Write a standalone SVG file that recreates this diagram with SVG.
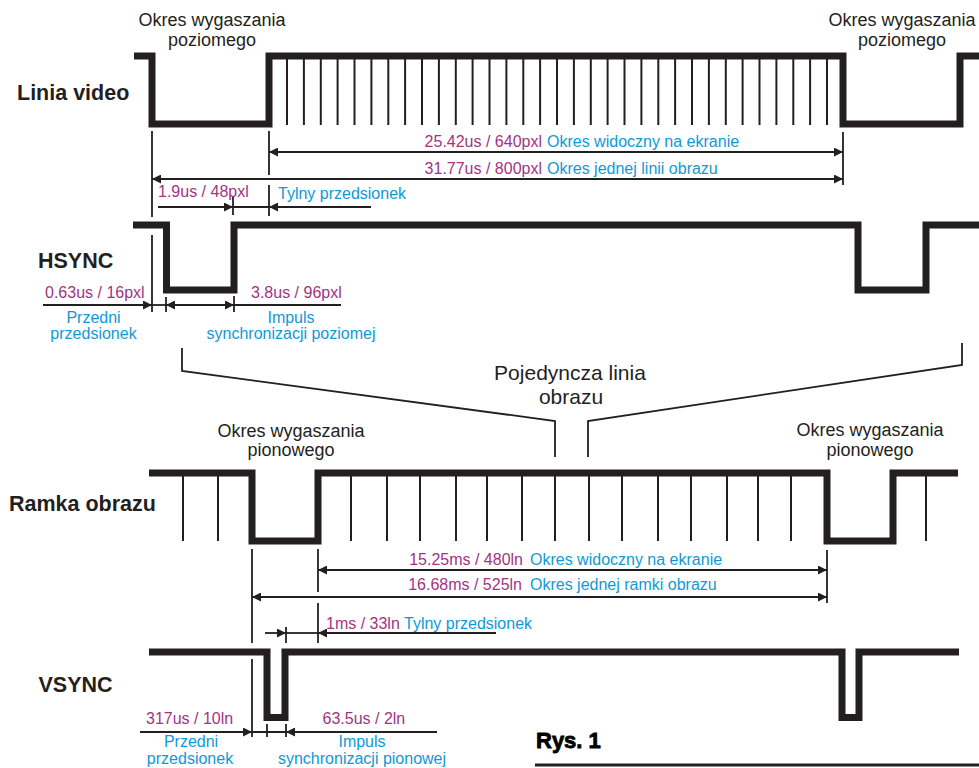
<svg xmlns="http://www.w3.org/2000/svg" width="979" height="768" viewBox="0 0 979 768">
<defs>
<marker id="ah" viewBox="0 0 10 10" refX="10" refY="5" markerUnits="userSpaceOnUse" markerWidth="10" markerHeight="9" orient="auto-start-reverse">
<path d="M0,0 L10,5 L0,10 z" fill="#231f20"/>
</marker>
<style>
text{font-family:"Liberation Sans",Arial,sans-serif;}
.wave{fill:none;stroke:#231f20;stroke-width:7;stroke-linejoin:miter;stroke-linecap:butt;}
.tick{stroke:#231f20;stroke-width:2;}
.dim{stroke:#231f20;stroke-width:1.8;fill:none;}
.ae{marker-end:url(#ah);}
.ab{marker-start:url(#ah);marker-end:url(#ah);}
.lbl{font-size:21.5px;font-weight:bold;fill:#231f20;}
.cap{font-size:18px;fill:#231f20;text-anchor:middle;}
.big{font-size:21px;fill:#231f20;text-anchor:middle;}
.pu{font-size:16px;fill:#a2347f;}
.bl{font-size:16px;fill:#1199d6;}
.c{text-anchor:middle;}
.e{text-anchor:end;}
</style>
</defs>
<rect width="979" height="768" fill="#ffffff"/>

<g id="linia-video">
<text class="cap" x="212" y="26">Okres wygaszania</text>
<text class="cap" x="212" y="46">poziomego</text>
<text class="cap" x="902" y="26">Okres wygaszania</text>
<text class="cap" x="902" y="46">poziomego</text>
<text class="lbl" x="17" y="100">Linia video</text>
<path class="wave" d="M134,56 H152 V124 H269 V56 H843 V124 H960 V56 H979"/>
<g class="tick">
<line x1="287" y1="56" x2="287" y2="125"/><line x1="303.9" y1="56" x2="303.9" y2="125"/><line x1="320.8" y1="56" x2="320.8" y2="125"/><line x1="337.6" y1="56" x2="337.6" y2="125"/><line x1="354.5" y1="56" x2="354.5" y2="125"/><line x1="371.4" y1="56" x2="371.4" y2="125"/><line x1="388.3" y1="56" x2="388.3" y2="125"/><line x1="405.1" y1="56" x2="405.1" y2="125"/><line x1="422" y1="56" x2="422" y2="125"/><line x1="438.9" y1="56" x2="438.9" y2="125"/><line x1="455.8" y1="56" x2="455.8" y2="125"/><line x1="472.6" y1="56" x2="472.6" y2="125"/><line x1="489.5" y1="56" x2="489.5" y2="125"/><line x1="506.4" y1="56" x2="506.4" y2="125"/><line x1="523.3" y1="56" x2="523.3" y2="125"/><line x1="540.1" y1="56" x2="540.1" y2="125"/><line x1="557" y1="56" x2="557" y2="125"/><line x1="573.9" y1="56" x2="573.9" y2="125"/><line x1="590.8" y1="56" x2="590.8" y2="125"/><line x1="607.6" y1="56" x2="607.6" y2="125"/><line x1="624.5" y1="56" x2="624.5" y2="125"/><line x1="641.4" y1="56" x2="641.4" y2="125"/><line x1="658.3" y1="56" x2="658.3" y2="125"/><line x1="675.1" y1="56" x2="675.1" y2="125"/><line x1="692" y1="56" x2="692" y2="125"/><line x1="708.9" y1="56" x2="708.9" y2="125"/><line x1="725.8" y1="56" x2="725.8" y2="125"/><line x1="742.6" y1="56" x2="742.6" y2="125"/><line x1="759.5" y1="56" x2="759.5" y2="125"/><line x1="776.4" y1="56" x2="776.4" y2="125"/><line x1="793.3" y1="56" x2="793.3" y2="125"/><line x1="810.1" y1="56" x2="810.1" y2="125"/><line x1="827" y1="56" x2="827" y2="125"/>
</g>
</g>

<g id="hsync">
<text class="lbl" x="38" y="268">HSYNC</text>
<path class="wave" d="M133,225 H166.5 V290 H234 V225 H858 V290 H926 V225 H979"/>
</g>

<g id="ramka-obrazu">
<text class="cap" x="291" y="437">Okres wygaszania</text>
<text class="cap" x="291" y="456">pionowego</text>
<text class="cap" x="870" y="436">Okres wygaszania</text>
<text class="cap" x="870" y="456">pionowego</text>
<text class="lbl" x="9" y="511">Ramka obrazu</text>
<path class="wave" d="M149,473 H252 V541 H318 V473 H827 V541 H893 V473 H958"/>
<g class="tick">
<line x1="183" y1="473" x2="183" y2="541"/><line x1="218" y1="473" x2="218" y2="541"/><line x1="351" y1="473" x2="351" y2="541"/><line x1="387" y1="473" x2="387" y2="541"/><line x1="420" y1="473" x2="420" y2="541"/><line x1="456" y1="473" x2="456" y2="541"/><line x1="487" y1="473" x2="487" y2="541"/><line x1="522" y1="473" x2="522" y2="541"/><line x1="555" y1="473" x2="555" y2="541"/><line x1="589" y1="473" x2="589" y2="541"/><line x1="622" y1="473" x2="622" y2="541"/><line x1="658" y1="473" x2="658" y2="541"/><line x1="691" y1="473" x2="691" y2="541"/><line x1="727" y1="473" x2="727" y2="541"/><line x1="758" y1="473" x2="758" y2="541"/><line x1="791" y1="473" x2="791" y2="541"/><line x1="926" y1="473" x2="926" y2="541"/>
</g>
</g>

<g id="vsync">
<text class="lbl" x="38.5" y="692">VSYNC</text>
<path class="wave" d="M149,652 H267 V717.5 H285 V652 H842 V717.5 H859 V652 H959"/>
</g>

<g id="pojedyncza-linia">
<text class="big" x="570" y="380">Pojedyncza linia</text>
<text class="big" x="571" y="404">obrazu</text>
</g>

<g id="labels">
<text class="pu e" x="542" y="147">25.42us / 640pxl</text>
<text class="bl" x="547" y="147">Okres widoczny na ekranie</text>
<text class="pu e" x="542" y="173.5">31.77us / 800pxl</text>
<text class="bl" x="547" y="173.5">Okres jednej linii obrazu</text>
<text class="pu" x="158" y="197">1.9us / 48pxl</text>
<text class="bl" x="278" y="199">Tylny przedsionek</text>
<text class="pu" x="45" y="298">0.63us / 16pxl</text>
<text class="pu" x="251" y="298">3.8us / 96pxl</text>
<text class="bl c" x="93.5" y="322.5">Przedni</text>
<text class="bl c" x="93.5" y="339">przedsionek</text>
<text class="bl c" x="291" y="322.5">Impuls</text>
<text class="bl c" x="291" y="339">synchronizacji poziomej</text>
<text class="pu e" x="523" y="565">15.25ms / 480ln</text>
<text class="bl" x="530" y="565">Okres widoczny na ekranie</text>
<text class="pu e" x="522" y="590">16.68ms / 525ln</text>
<text class="bl" x="530" y="590">Okres jednej ramki obrazu</text>
<text class="pu" x="326" y="629">1ms / 33ln</text>
<text class="bl" x="404" y="629">Tylny przedsionek</text>
<text class="pu" x="146" y="724">317us / 10ln</text>
<text class="pu" x="322.5" y="724">63.5us / 2ln</text>
<text class="bl c" x="191" y="747">Przedni</text>
<text class="bl c" x="190" y="764">przedsionek</text>
<text class="bl c" x="362" y="747">Impuls</text>
<text class="bl c" x="362" y="764">synchronizacji pionowej</text>
</g>

<g id="rys-1">
<text x="536" y="748" style="font-size:22px;font-weight:bold;fill:#000;stroke:#000;stroke-width:0.8">Rys. 1</text>
<line x1="535" y1="765" x2="979" y2="765" stroke="#231f20" stroke-width="3"/>
</g>

<g id="connectors">
<line class="dim" x1="152" y1="131" x2="152" y2="217"/>
<line class="dim" x1="152" y1="235" x2="152" y2="312"/>
<line class="dim" x1="269" y1="131" x2="269" y2="175"/>
<line class="dim" x1="269" y1="185" x2="269" y2="216"/>
<line class="dim" x1="843" y1="132" x2="843" y2="185"/>
<line class="dim" x1="233" y1="197" x2="233" y2="215"/>
<line class="dim ab" x1="269" y1="152" x2="843" y2="152"/>
<line class="dim ab" x1="152" y1="179" x2="843" y2="179"/>
<line class="dim ae" x1="158" y1="207" x2="233" y2="207"/>
<line class="dim" x1="233" y1="207" x2="269" y2="207"/>
<line class="dim ae" x1="371" y1="207" x2="269" y2="207"/>
<line class="dim ae" x1="43" y1="305" x2="152" y2="305"/>
<line class="dim" x1="152" y1="305" x2="166" y2="305"/>
<line class="dim ab" x1="166" y1="305" x2="234" y2="305"/>
<line class="dim" x1="234" y1="305" x2="341" y2="305"/>
<line class="dim" x1="166" y1="297" x2="166" y2="312"/>
<line class="dim" x1="234" y1="296" x2="234" y2="312"/>

<path class="dim" d="M182,348 V371 L555,421 V457"/>
<path class="dim" d="M962,343 V365 L588,421 V457"/>

<line class="dim" x1="252" y1="549" x2="252" y2="643"/>
<line class="dim" x1="252" y1="659" x2="252" y2="737"/>
<line class="dim" x1="318" y1="549" x2="318" y2="592"/>
<line class="dim" x1="318" y1="603" x2="318" y2="643"/>
<line class="dim" x1="827" y1="550" x2="827" y2="603"/>
<line class="dim ab" x1="318" y1="570" x2="827" y2="570"/>
<line class="dim ab" x1="252" y1="597" x2="827" y2="597"/>
<line class="dim ae" x1="265" y1="633" x2="286" y2="633"/>
<line class="dim" x1="286" y1="633" x2="318" y2="633"/>
<line class="dim ae" x1="496" y1="633" x2="318" y2="633"/>
<line class="dim" x1="286" y1="627" x2="286" y2="643"/>
<line class="dim ae" x1="140" y1="732" x2="252" y2="732"/>
<line class="dim" x1="252" y1="732" x2="286" y2="732"/>
<line class="dim ae" x1="437" y1="732" x2="286" y2="732"/>
<line class="dim" x1="267" y1="724" x2="267" y2="737"/>
<line class="dim" x1="286" y1="724" x2="286" y2="737"/>
</g>
</svg>
